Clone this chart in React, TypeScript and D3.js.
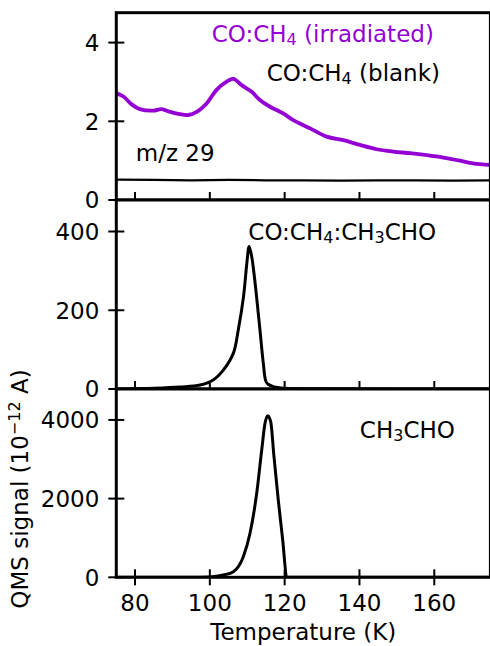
import React from "react";
import * as d3 from "d3";

// ---------- data ----------
const T_IRR = [75, 76.9, 79.1, 81.3, 84.9, 87.1, 89.4, 92, 94.2, 96.5, 99.2, 101.8, 104.5, 106.3, 108.5, 111.2, 113.4, 116.1, 119.6, 122.3, 126.8, 131.2, 135.7, 140.1, 144.6, 149, 153.5, 158, 162.4, 166.9, 170.4, 175];
const V_IRR = [2.72, 2.63, 2.43, 2.31, 2.27, 2.31, 2.24, 2.18, 2.16, 2.24, 2.46, 2.8, 3.01, 3.08, 2.92, 2.75, 2.54, 2.37, 2.2, 2.03, 1.82, 1.61, 1.52, 1.4, 1.29, 1.23, 1.19, 1.14, 1.08, 1.0, 0.93, 0.89];

const T_BLANK = [75, 85, 95, 105, 115, 125, 135, 145, 155, 165, 175];
const V_BLANK = [0.52, 0.51, 0.5, 0.51, 0.5, 0.5, 0.49, 0.5, 0.5, 0.49, 0.5];

const T_MIX = [75, 85, 92, 97.4, 100.9, 103.6, 106.3, 107.6, 109.0, 109.9, 110.5, 111.2, 111.8, 112.5, 113.4, 114.3, 115.0, 115.6, 117, 120, 130, 175];
const V_MIX = [0, 2, 5, 10, 23, 48, 91, 150, 234, 320, 362, 336, 294, 234, 150, 65, 19, 12, 6, 2, 0.5, 0];

const T_PURE = [75, 95, 100, 103.6, 106.3, 108.95, 110.74, 112.53, 113.87, 114.75, 115.47, 116.27, 117.15, 118.3, 119.48, 120.55, 121, 175];
const V_PURE = [0, 0, 10, 58, 142, 523, 1118, 2135, 3235, 3914, 4107, 3954, 3065, 1964, 948, 15, 0, 0];

const X_TICKS = [80, 100, 120, 140, 160];
const TOP_TICKS = [0, 2, 4];
const MID_TICKS = [0, 200, 400];
const BOT_TICKS = [0, 2000, 4000];

const PURPLE = "#9400d3";
const FONT = "DejaVu Sans, sans-serif";
const FS = 23;
const SUB = 16;

export default function App() {
  const W = 490, H = 646;
  const x = d3.scaleLinear().domain([75, 175]).range([116.3, 490.4]);

  const panels = [
    { top: 12.7, bottom: 200, max: 4.76, ticks: TOP_TICKS },
    { top: 200, bottom: 389, max: 480, ticks: MID_TICKS },
    { top: 389, bottom: 577.3, max: 4786, ticks: BOT_TICKS },
  ];
  const ys = panels.map((p) => d3.scaleLinear().domain([0, p.max]).range([p.bottom, p.top]));

  const mk = (T: number[], V: number[], y: d3.ScaleLinear<number, number>, curve: any) =>
    d3.line<number>().x((_, i) => x(T[i])).y((v) => y(v)).curve(curve)(V) || "";

  const series = [
    [
      { d: mk(T_BLANK, V_BLANK, ys[0], d3.curveLinear), c: "#000", w: 2.3 },
      { d: mk(T_IRR, V_IRR, ys[0], d3.curveCatmullRom), c: PURPLE, w: 3.8 },
    ],
    [{ d: mk(T_MIX, V_MIX, ys[1], d3.curveCatmullRom), c: "#000", w: 3 }],
    [{ d: mk(T_PURE, V_PURE, ys[2], d3.curveMonotoneX), c: "#000", w: 3 }],
  ];

  const x0 = x(75), x1 = x(175);

  return (
    <svg width={W} height={H} style={{ display: "block", position: "absolute", left: 0, top: 0 }} fontFamily={FONT}>
      <rect x={0} y={0} width={W} height={H} fill="#fff" />
      <defs>
        {panels.map((p, i) => (
          <clipPath id={`clip${i}`} key={i}>
            <rect x={x0} y={p.top} width={x1 - x0} height={p.bottom - p.top} />
          </clipPath>
        ))}
      </defs>
      {panels.map((p, i) => (
        <g key={i}>
          <rect x={x0} y={p.top} width={x1 - x0} height={p.bottom - p.top} fill="#fff" />
          <g clipPath={`url(#clip${i})`}>
            {series[i].map((s, j) => (
              <path key={j} d={s.d} fill="none" stroke={s.c} strokeWidth={s.w} strokeLinejoin="round" strokeLinecap="round" />
            ))}
          </g>
          {X_TICKS.map((t) => (
            <line key={t} x1={x(t)} x2={x(t)} y1={p.bottom - 8} y2={p.bottom + 8} stroke="#000" strokeWidth={2} />
          ))}
          {p.ticks.map((t) => (
            <g key={t}>
              <line x1={x0 - 8} x2={x0 + 8} y1={ys[i](t)} y2={ys[i](t)} stroke="#000" strokeWidth={2} />
              <text x={x0 - 17} y={ys[i](t)} dy="0.36em" textAnchor="end" fontSize={FS} fill="#000">
                {t}
              </text>
            </g>
          ))}
          <rect x={x0} y={p.top} width={x1 - x0} height={p.bottom - p.top} fill="none" stroke="#000" strokeWidth={3} />
        </g>
      ))}
      {X_TICKS.map((t) => (
        <text key={t} x={x(t)} y={611} textAnchor="middle" fontSize={FS} fill="#000">
          {t}
        </text>
      ))}
      <text x={(x0 + x1) / 2} y={640} textAnchor="middle" fontSize={FS} fill="#000">
        Temperature (K)
      </text>
      <text transform={`translate(28,489) rotate(-90)`} textAnchor="middle" fontSize={FS} fill="#000">
        QMS signal (10<tspan fontSize={SUB} dy={-8}>−12</tspan>
        <tspan dy={8}> A)</tspan>
      </text>

      <text x={x(100.5)} y={ys[0](4.02)} fontSize={FS} fill={PURPLE}>
        CO:CH<tspan fontSize={SUB} dy={3}>4</tspan>
        <tspan dy={-3}> (irradiated)</tspan>
      </text>
      <text x={x(115.2)} y={ys[0](3.02)} fontSize={FS} fill="#000">
        CO:CH<tspan fontSize={SUB} dy={3}>4</tspan>
        <tspan dy={-3}> (blank)</tspan>
      </text>
      <text x={x(80.2)} y={ys[0](0.99)} fontSize={FS} fill="#000">
        m/z 29
      </text>
      <text x={x(110.3)} y={ys[1](378)} fontSize={FS} fill="#000">
        CO:CH<tspan fontSize={SUB} dy={3}>4</tspan>
        <tspan dy={-3}>:CH</tspan>
        <tspan fontSize={SUB} dy={3}>3</tspan>
        <tspan dy={-3}>CHO</tspan>
      </text>
      <text x={x(140.1)} y={ys[2](3530)} fontSize={FS} fill="#000">
        CH<tspan fontSize={SUB} dy={3}>3</tspan>
        <tspan dy={-3}>CHO</tspan>
      </text>
    </svg>
  );
}
